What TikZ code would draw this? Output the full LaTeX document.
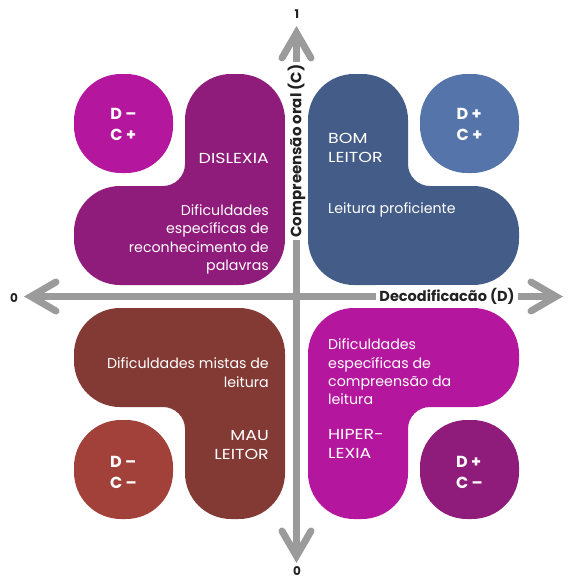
\documentclass[tikz,border=0pt]{standalone}
\usepackage{fontspec}
\setmainfont{Poppins}
\newfontfamily\capsfont[FakeStretch=1.2]{Poppins}
\definecolor{magenta1}{HTML}{B4179D}
\definecolor{purple1}{HTML}{8F1B7B}
\definecolor{bluedark}{HTML}{445D88}
\definecolor{bluelight}{HTML}{5574A9}
\definecolor{browndark}{HTML}{833A35}
\definecolor{brownlight}{HTML}{A1413A}
\definecolor{axisgray}{HTML}{9B9B9B}
\definecolor{labeltext}{HTML}{222222}
\newcommand{\quadshape}{(231,74) -- (239,74) arc[start angle=-90,end angle=0,radius=46] -- (285,239) arc[start angle=0,end angle=90,radius=46] -- (120,285) arc[start angle=90,end angle=180,radius=46] -- (74,232) arc[start angle=180,end angle=270,radius=46] -- (163,186) arc[start angle=90,end angle=0,radius=22] -- (185,120) arc[start angle=180,end angle=270,radius=46] -- cycle}
\newcommand{\quadcircle}{[rounded corners=47pt] (74,74) rectangle (173,173)}
\begin{document}
\begin{tikzpicture}[x=1pt,y=-1pt,
  txt/.style={text=white, inner sep=0pt, font=\fontsize{14.2}{18.3}\selectfont},
  captxt/.style={text=white, inner sep=0pt, font=\capsfont\fontsize{14.5}{19.5}\selectfont},
  dc/.style={text=white, inner sep=0pt, align=left, font=\fontsize{16}{21}\selectfont\bfseries},
  axisline/.style={draw=axisgray, line width=7pt},
  chevron/.style={draw=axisgray, line width=7pt, line cap=round, line join=miter},
  numlab/.style={text=labeltext, inner sep=0pt, font=\fontsize{12}{14}\selectfont\bfseries},
  axlab/.style={text=labeltext, fill=white, inner sep=3pt, font=\fontsize{14.5}{16}\selectfont\bfseries}]
\useasboundingbox (0,0) rectangle (569,579);
% axes
\coordinate (xl) at (31,296.5);
\coordinate (xr) at (556,296.5);
\coordinate (yt) at (296.5,33);
\coordinate (yb) at (296.5,556);
\draw[axisline] (xl) -- (xr);
\draw[axisline] (yb) -- (yt);
\coordinate (xlw1) at (56,282);
\coordinate (xlw2) at (56,311);
\coordinate (xrw1) at (531,282);
\coordinate (xrw2) at (531,311);
\coordinate (ytw1) at (282,58);
\coordinate (ytw2) at (311,58);
\coordinate (ybw1) at (282,531);
\coordinate (ybw2) at (311,531);
\draw[chevron] (xlw1) -- (xl) -- (xlw2);
\draw[chevron] (xrw1) -- (xr) -- (xrw2);
\draw[chevron] (ytw1) -- (yt) -- (ytw2);
\draw[chevron] (ybw1) -- (yb) -- (ybw2);
% quadrant shapes
\fill[purple1] \quadshape;
\fill[magenta1] \quadcircle;
\begin{scope}[shift={(593,0)}, xscale=-1]
\fill[bluedark] \quadshape;
\fill[bluelight] \quadcircle;
\end{scope}
\begin{scope}[shift={(0,593)}, yscale=-1]
\fill[browndark] \quadshape;
\fill[brownlight] \quadcircle;
\end{scope}
\begin{scope}[shift={(593,593)}, xscale=-1, yscale=-1]
\fill[magenta1] \quadshape;
\fill[purple1] \quadcircle;
\end{scope}
% texts TL
\node[captxt, anchor=east] (tlA) at (269,158) {DISLEXIA};
\node[txt, anchor=east, align=right] (tlB) at (269,239.5) {Dificuldades\\específicas de\\reconhecimento de\\palavras};
\node[dc] (tlC) at (123.5,124) {D –\\C +};
% texts TR
\node[captxt, anchor=west, align=left] (trA) at (328,148) {BOM\\LEITOR};
\node[txt, anchor=west] (trB) at (328,210) {Leitura proficiente};
\node[dc] (trC) at (469.5,124) {D +\\C +};
% texts BL
\node[txt, anchor=east, align=right] (blA) at (269,372.5) {Dificuldades mistas de\\leitura};
\node[captxt, anchor=east, align=right] (blB) at (269,445) {MAU\\LEITOR};
\node[dc] (blC) at (123.5,472) {D –\\C –};
% texts BR
\node[txt, anchor=west, align=left] (brA) at (328,372) {Dificuldades\\específicas de\\compreensão da\\leitura};
\node[captxt, anchor=west, align=left] (brB) at (328,444) {HIPER-\\LEXIA};
\node[dc] (brC) at (469.5,472) {D +\\C –};
% axis labels
\node[axlab] (dlab) at (447,296.5) {Decodificacão (D)};
\node[axlab, rotate=90, font=\fontsize{15}{16}\selectfont\bfseries] (clab) at (296.5,151) {Compreensão oral (C)};
\node[numlab] (n1) at (297,14) {1};
\node[numlab] (n0b) at (297,571) {0};
\node[numlab] (n0l) at (14,298) {0};
\end{tikzpicture}
\end{document}
